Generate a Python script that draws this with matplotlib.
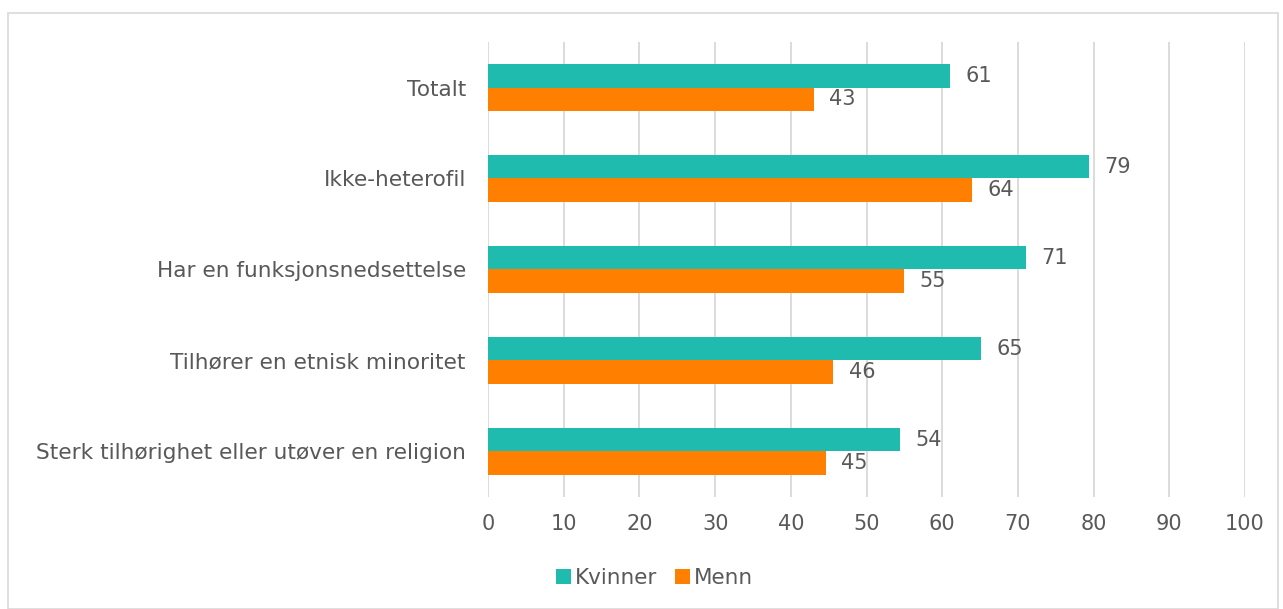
import numpy as np
from matplotlib import pyplot as plt
from matplotlib.patches import Rectangle

plt.rcParams['font.family'] = ['DejaVu Sans']

categories = ['Totalt', 'Ikke-heterofil', 'Har en funksjonsnedsettelse',
              'Tilhører en etnisk minoritet',
              'Sterk tilhørighet eller utøver en religion']
kvinner = [61.0, 79.4, 71.1, 65.1, 54.4]
menn = [43.0, 63.9, 55.0, 45.6, 44.6]

teal = '#20BBAF'
orange = '#FF7F00'
grey = '#595959'

fig = plt.figure(figsize=(12.83, 6.09), dpi=100)
ax = fig.add_axes([0.3804, 0.184, 0.59, 0.747])

y = np.arange(len(categories))
h = 0.255
b1 = ax.barh(y - h / 2, kvinner, height=h, color=teal, label='Kvinner', zorder=3)
b2 = ax.barh(y + h / 2, menn, height=h, color=orange, label='Menn', zorder=3)

for bars, vals in ((b1, kvinner), (b2, menn)):
    for bar, v in zip(bars, vals):
        ax.annotate(f'{v:.0f}', (bar.get_width(), bar.get_y() + bar.get_height() / 2),
                    xytext=(11, 0), textcoords='offset points', va='center', ha='left',
                    fontsize=15, color=grey)

ax.set_xlim(0, 100)
ax.set_ylim(len(categories) - 0.5, -0.5)
ax.set_xticks(range(0, 101, 10))
ax.set_yticks(y)
ax.set_yticklabels(categories)
ax.tick_params(axis='x', length=0, labelsize=15, colors=grey, pad=12)
ax.tick_params(axis='y', length=0, labelsize=15.6, colors=grey, pad=16)
ax.grid(axis='x', color='#D9D9D9', linewidth=1.3, zorder=0)
for s in ax.spines.values():
    s.set_visible(False)

fig.legend(handles=[b1, b2], loc='center', bbox_to_anchor=(0.51, 0.051), ncol=2,
           frameon=False, fontsize=15.5, labelcolor=grey, handlelength=0.7,
           handleheight=0.7, handletextpad=0.2, columnspacing=0.8)

fig.patches.append(Rectangle((0.006, 0.0), 0.99, 0.978, transform=fig.transFigure,
                             fill=False, edgecolor='#D9D9D9', linewidth=1.2))

fig.savefig('out.png', dpi=100)
